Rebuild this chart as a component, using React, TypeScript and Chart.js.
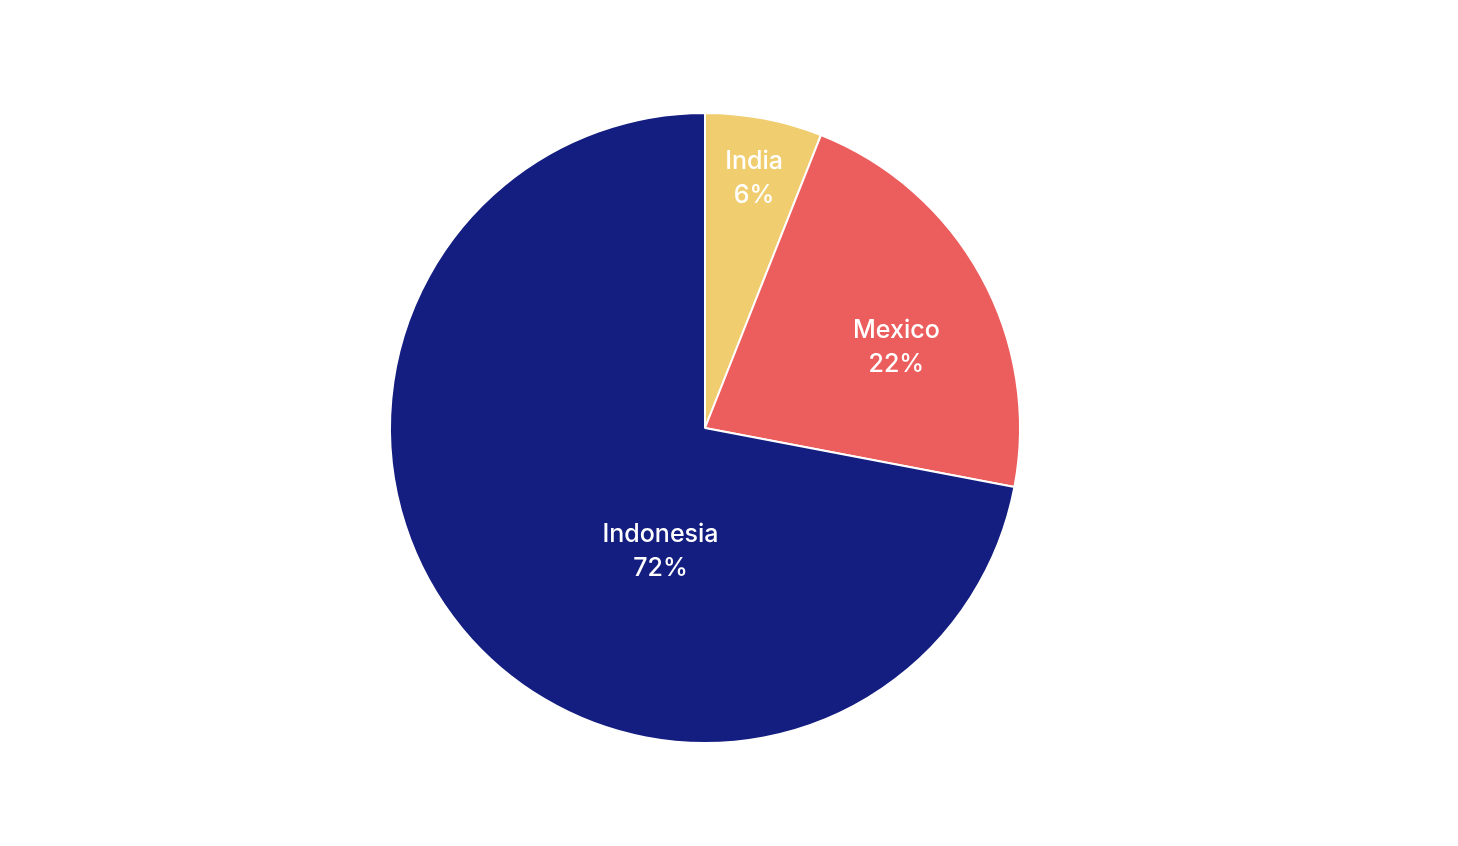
import React, { useEffect, useRef } from "react";
import { Chart, registerables } from "chart.js";

Chart.register(...registerables);

const categories = ["India", "Mexico", "Indonesia"];
const shares = [6, 22, 72];
const colors = ["#F0CD6E", "#EC5E5D", "#141E80"];

// label placement relative to each arc: angle offset (deg) from mid-angle, radius fraction
const labelAngleOffset = [0.3, 5.8, -30.5];
const labelRadiusFrac = [0.81, 0.66, 0.415];

const sliceLabels = {
  id: "sliceLabels",
  afterDatasetsDraw(chart: any) {
    const ctx = chart.ctx;
    const meta = chart.getDatasetMeta(0);
    ctx.save();
    ctx.fillStyle = "#ffffff";
    ctx.textAlign = "center";
    ctx.textBaseline = "middle";
    ctx.font = "500 25px Inter, 'Open Sans', sans-serif";
    meta.data.forEach((arc: any, i: number) => {
      const p = arc.getProps(["x", "y", "startAngle", "endAngle", "outerRadius"], true);
      const mid = (p.startAngle + p.endAngle) / 2 + (labelAngleOffset[i] * Math.PI) / 180;
      const r = p.outerRadius * labelRadiusFrac[i];
      const cx = p.x + Math.cos(mid) * r;
      const cy = p.y + Math.sin(mid) * r;
      ctx.fillText(categories[i], cx, cy - 16.5);
      ctx.fillText(shares[i] + "%", cx, cy + 17.5);
    });
    ctx.restore();
  },
};

export default function App() {
  const ref = useRef<HTMLCanvasElement>(null);
  useEffect(() => {
    if (!ref.current) return;
    const chart = new Chart(ref.current, {
      type: "pie",
      data: {
        labels: categories,
        datasets: [
          {
            data: shares,
            backgroundColor: colors,
            borderColor: "#ffffff",
            borderWidth: 2,
          },
        ],
      },
      options: {
        animation: false,
        responsive: false,
        maintainAspectRatio: false,
        layout: { padding: { top: 112, bottom: 102, left: 0, right: 48 } },
        plugins: { legend: { display: false }, tooltip: { enabled: false } },
      },
      plugins: [sliceLabels],
    });
    return () => chart.destroy();
  }, []);
  return (
    <div style={{ position: "absolute", left: 0, top: 0, width: 1458, height: 846, background: "#fff" }}>
      <canvas ref={ref} width={1458} height={846} style={{ width: 1458, height: 846 }} />
    </div>
  );
}
